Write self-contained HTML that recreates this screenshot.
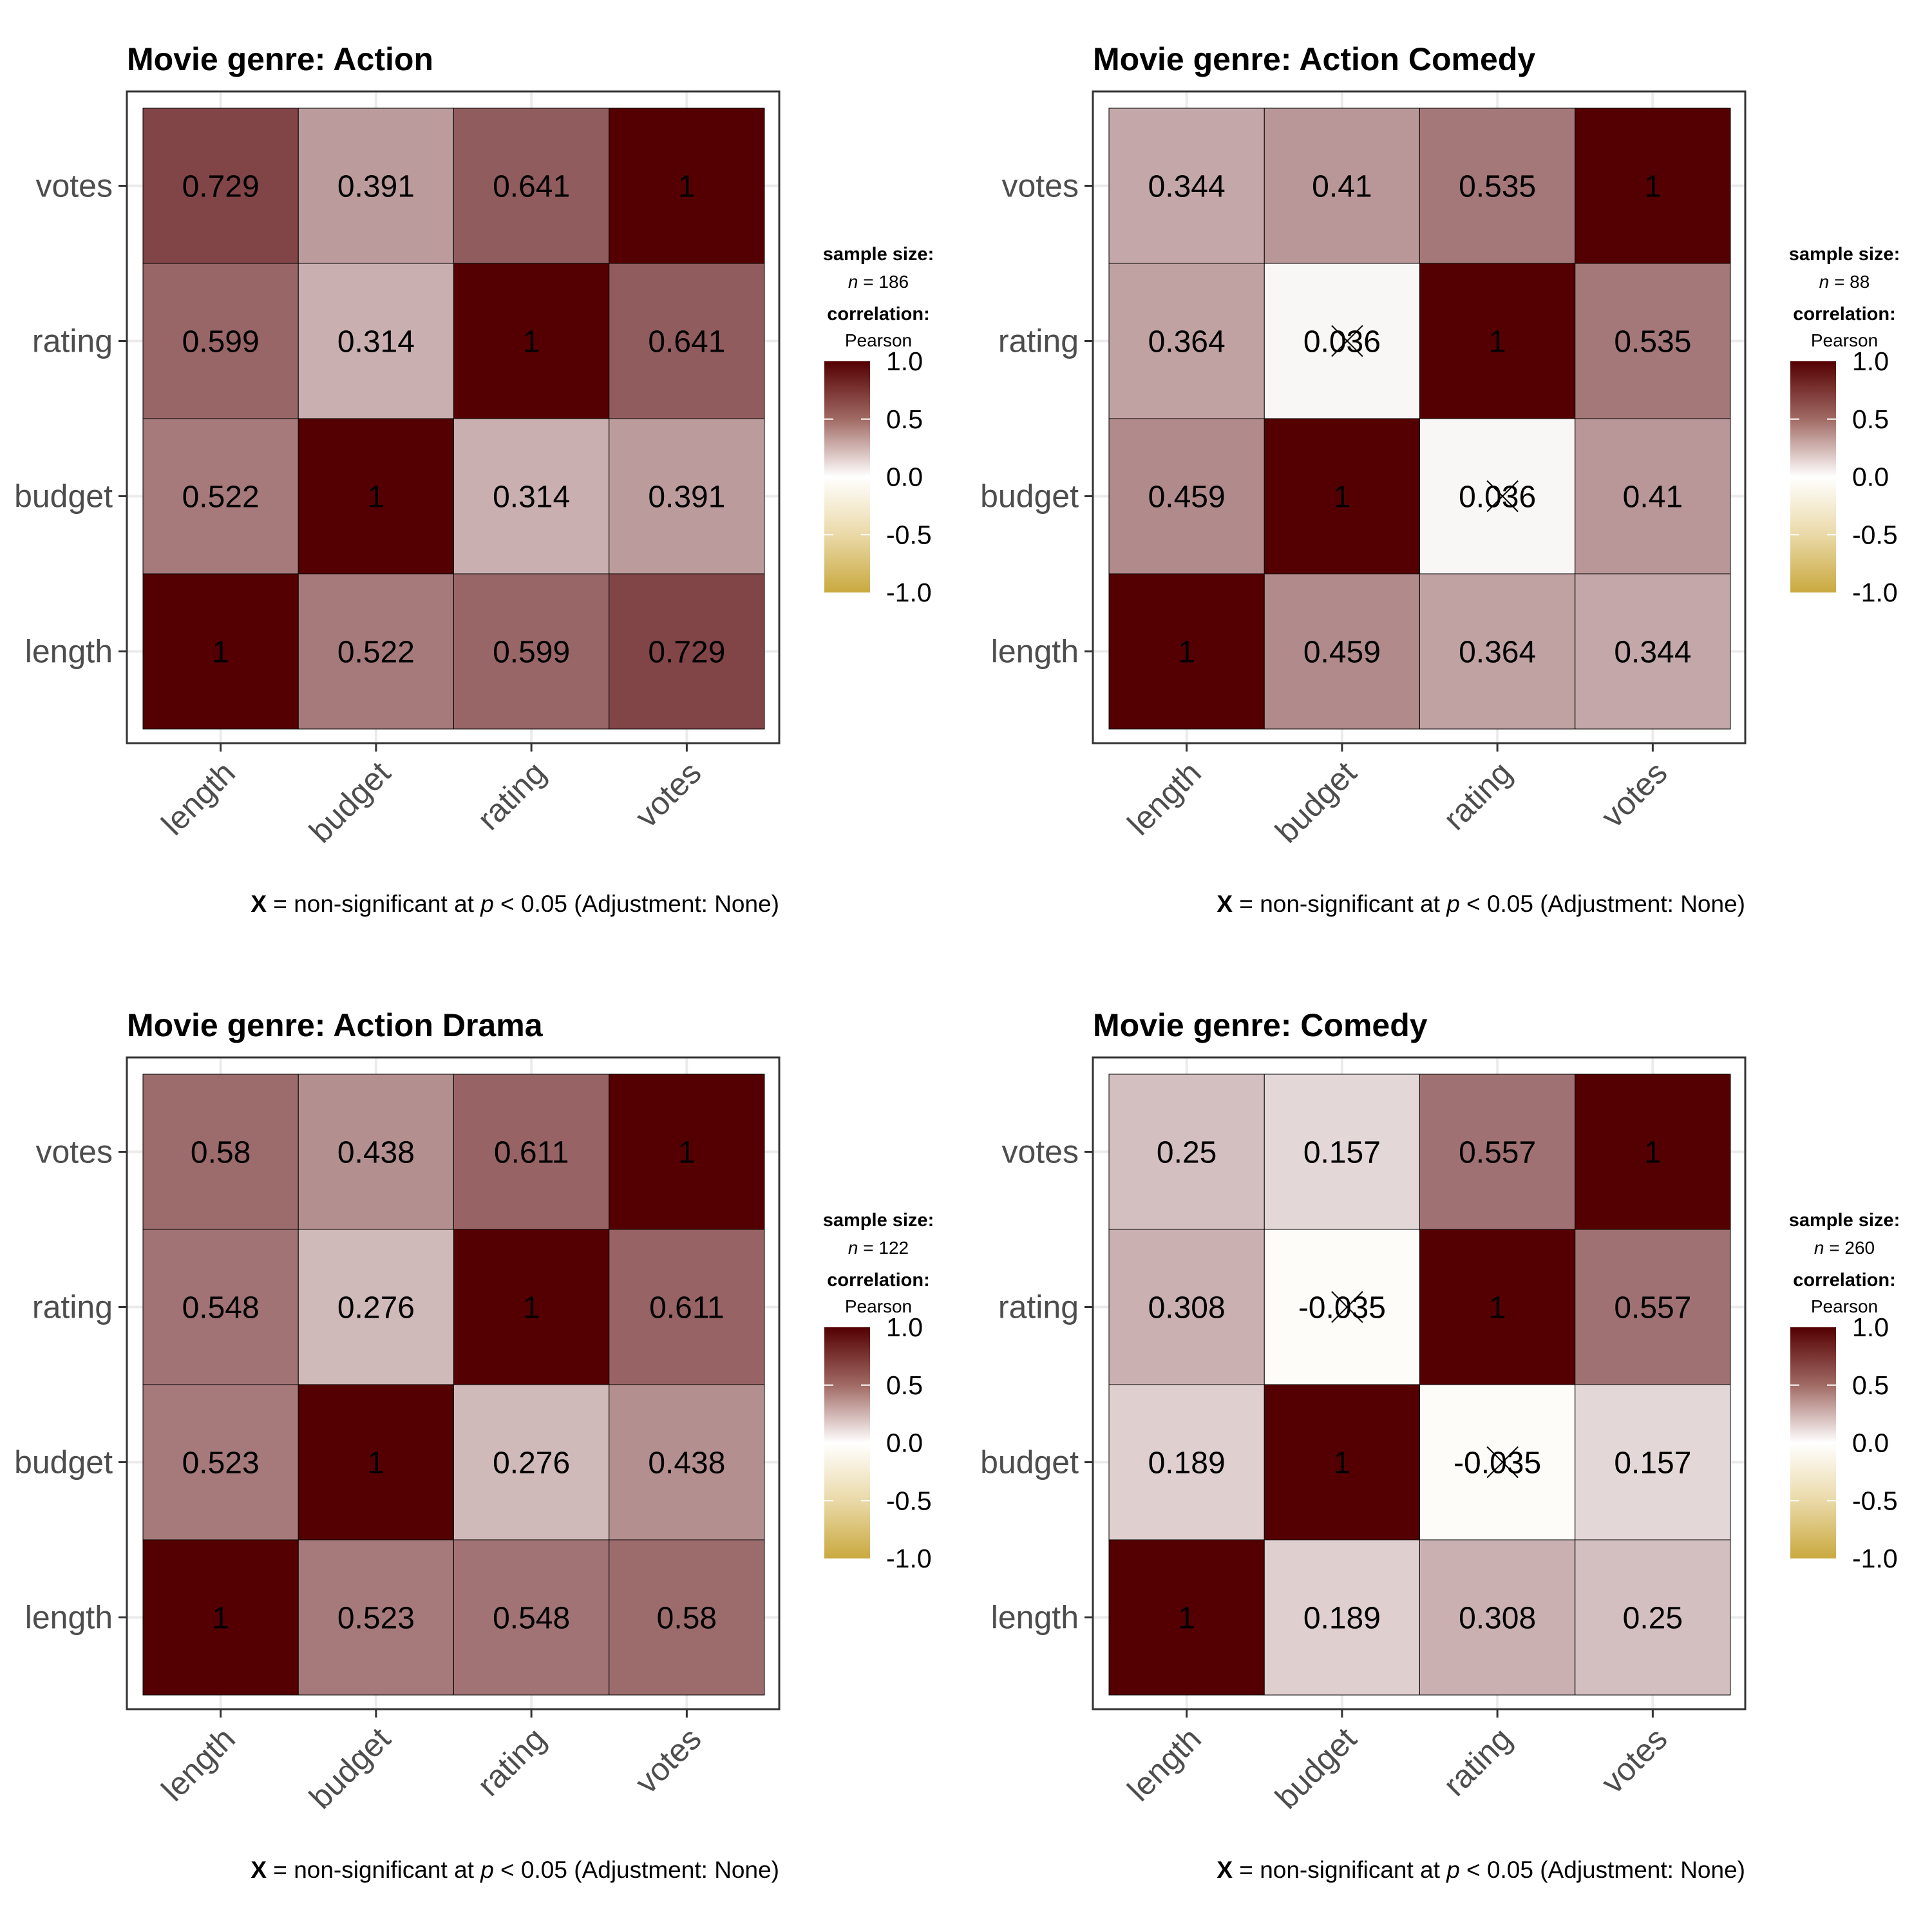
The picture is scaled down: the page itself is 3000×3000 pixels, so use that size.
<!DOCTYPE html>
<html><head><meta charset="utf-8">
<style>html,body{margin:0;padding:0;background:#fff}svg{display:block}text{font-family:"Liberation Sans",Arial,sans-serif}</style>
</head><body>
<svg id="chart" width="3000" height="3000" viewBox="0 0 3000 3000" xmlns="http://www.w3.org/2000/svg">
<defs>
<linearGradient id="cbar" x1="0" y1="0" x2="0" y2="1">
<stop offset="0" stop-color="#540002"/>
<stop offset="0.25" stop-color="#a16a64"/>
<stop offset="0.5" stop-color="#ffffff"/>
<stop offset="0.75" stop-color="#ead9a8"/>
<stop offset="1" stop-color="#c9a93f"/>
</linearGradient>
</defs>
</svg>
<script>
const panelTitles = ["Movie genre: Action","Movie genre: Action Comedy","Movie genre: Action Drama","Movie genre: Comedy"];
const variables = ["length","budget","rating","votes"];
// pair order: length-budget, length-rating, length-votes, budget-rating, budget-votes, rating-votes
const corrAction = [0.522,0.599,0.729,0.314,0.391,0.641];
const corrActionComedy = [0.459,0.364,0.344,0.036,0.41,0.535];
const corrActionDrama = [0.523,0.548,0.58,0.276,0.438,0.611];
const corrComedy = [0.189,0.308,0.25,-0.035,0.157,0.557];
const sigAction = [1,1,1,1,1,1];
const sigActionComedy = [1,1,1,0,1,1];
const sigActionDrama = [1,1,1,1,1,1];
const sigComedy = [1,1,1,0,1,1];
const sampleSizes = [186,88,122,260];
const legendTicks = [1.0,0.5,0.0,-0.5,-1.0];

const allCorr=[corrAction,corrActionComedy,corrActionDrama,corrComedy];
const allSig=[sigAction,sigActionComedy,sigActionDrama,sigComedy];
const NS="http://www.w3.org/2000/svg";
const svg=document.getElementById('chart');
function mk(tag,attrs,parent,txt){const e=document.createElementNS(NS,tag);for(const k in attrs)e.setAttribute(k,attrs[k]);if(txt!==undefined)e.textContent=txt;parent.appendChild(e);return e;}
function pairIdx(i,j){const a=Math.min(i,j),b=Math.max(i,j);const m={"0,1":0,"0,2":1,"0,3":2,"1,2":3,"1,3":4,"2,3":5};return m[a+","+b];}
function fillColor(v){
  if(v>=0){const d=[84,0,2];return `rgb(${Math.round(255+(d[0]-255)*v)},${Math.round(255+(d[1]-255)*v)},${Math.round(255+(d[2]-255)*v)})`;}
  const g=[201,169,63],t=-v;return `rgb(${Math.round(255+(g[0]-255)*t)},${Math.round(255+(g[1]-255)*t)},${Math.round(255+(g[2]-255)*t)})`;
}
const X0=222,X1=1187,Y0=168,Y1=1132;
const BL=197,BR=1210,BT=142,BB=1154;
const cw=(X1-X0)/4, ch=(Y1-Y0)/4;
function xPos(i){return X0+cw*(i+0.5);}
function yPos(j){return Y1-ch*(j+0.5);}
function legY(v){return 561+(1-v)/2*(920-561);}

panelTitles.forEach((title,p)=>{
  const ox=(p%2)*1500, oy=Math.floor(p/2)*1500;
  const g=mk('g',{transform:`translate(${ox},${oy})`},svg);
  
  
  const t=mk('text',{x:197,y:109,'font-size':50,'font-weight':'bold',fill:'#000'},g,title);
  
  
  for(let i=0;i<4;i++){
    mk('line',{x1:xPos(i),x2:xPos(i),y1:BT,y2:BB,stroke:'#ebebeb','stroke-width':4},g);
    mk('line',{x1:BL,x2:BR,y1:yPos(i),y2:yPos(i),stroke:'#ebebeb','stroke-width':4},g);
  }
  const cells=mk('g',{},g);
  
  
  for(let i=0;i<4;i++)for(let j=0;j<4;j++){
    const v=i===j?1:allCorr[p][pairIdx(i,j)];
    const sig=i===j?1:allSig[p][pairIdx(i,j)];
    const r=mk('rect',{x:xPos(i)-cw/2,y:yPos(j)-ch/2,width:cw,height:ch,fill:fillColor(v),stroke:'#000','stroke-width':1},cells);
    
    
    const lt=mk('text',{x:xPos(i),y:yPos(j)+17,'font-size':48,'text-anchor':'middle',fill:'#000'},cells,String(v));
    
    
    if(!sig){
      const cx=xPos(i)+8,cy=yPos(j),s=24;
      const x1=mk('line',{x1:cx-s,y1:cy-s,x2:cx+s,y2:cy+s,stroke:'#000','stroke-width':2},cells);
      
      
      mk('line',{x1:cx-s,y1:cy+s,x2:cx+s,y2:cy-s,stroke:'#000','stroke-width':2},cells);
    }
  }
  const border=mk('rect',{x:BL,y:BT,width:BR-BL,height:BB-BT,fill:'none',stroke:'#333','stroke-width':3},g);
  
  
  for(let i=0;i<4;i++){
    mk('line',{x1:BL-13,x2:BL,y1:yPos(i),y2:yPos(i),stroke:'#333','stroke-width':3},g);
    mk('line',{x1:xPos(i),x2:xPos(i),y1:BB,y2:BB+13,stroke:'#333','stroke-width':3},g);
    const yl=mk('text',{x:BL-22,y:yPos(i)+17,'font-size':50,'text-anchor':'end',fill:'#4d4d4d'},g,variables[i]);
    
    
    const xl=mk('text',{transform:`translate(${xPos(i)},${BB+24}) rotate(-45)`,dy:'0.72em','font-size':50,'text-anchor':'end',fill:'#4d4d4d'},g,variables[i]);
    
    
  }
  const lg=mk('g',{},g);
  
  
  const lc=1364;
  mk('text',{x:lc,y:404,'font-size':29,'font-weight':'bold','text-anchor':'middle'},lg,'sample size:');
  const nt=mk('text',{x:lc,y:447,'font-size':28,'text-anchor':'middle'},lg);
  mk('tspan',{'font-style':'italic'},nt,'n');
  mk('tspan',{},nt,' = '+sampleSizes[p]);
  mk('text',{x:lc,y:497,'font-size':29,'font-weight':'bold','text-anchor':'middle'},lg,'correlation:');
  mk('text',{x:lc,y:538,'font-size':28,'text-anchor':'middle'},lg,'Pearson');
  const cb=mk('rect',{x:1280,y:561,width:71,height:359,fill:'url(#cbar)'},lg);
  
  
  legendTicks.forEach(v=>{
    const y=legY(v);
    if(Math.abs(v)<1){mk('line',{x1:1280,x2:1294,y1:y,y2:y,stroke:'#fff','stroke-width':2},lg);
    mk('line',{x1:1337,x2:1351,y1:y,y2:y,stroke:'#fff','stroke-width':2},lg);}
    const lt=mk('text',{x:1376,y:y+14,'font-size':41},lg,v.toFixed(1));
    
    
  });
  const fn=mk('text',{x:BR,y:1416,'font-size':37,'text-anchor':'end'},g);
  
  
  mk('tspan',{'font-weight':'bold'},fn,'X');
  mk('tspan',{},fn,' = non-significant at ');
  mk('tspan',{'font-style':'italic'},fn,'p');
  mk('tspan',{},fn,' < 0.05 (Adjustment: None)');
});
</script>
</body></html>
